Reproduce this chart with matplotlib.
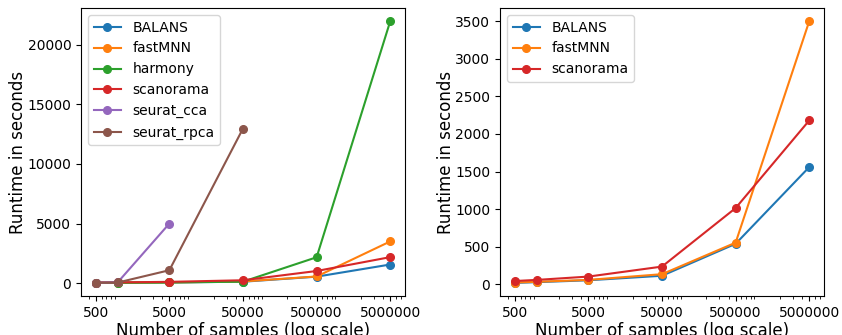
import matplotlib
matplotlib.use("Agg")
import matplotlib.pyplot as plt
from matplotlib.ticker import FixedLocator, FixedFormatter

samples = [500, 1000, 5000, 50000, 500000, 5000000]
xticks = [500, 5000, 50000, 500000, 5000000]
xtick_labels = ["500", "5000", "50000", "500000", "5000000"]

balans = [20, 30, 55, 115, 540, 1560]
fastmnn = [25, 35, 60, 136, 555, 3500]
harmony = [15, 25, 50, 120, 2170, 22000]
scanorama = [45, 60, 104, 237, 1015, 2180]
seurat_cca = [30, 80, 5000]
seurat_rpca = [30, 50, 1080, 12980]

fig = plt.figure(figsize=(8.42, 3.35), dpi=100)
ax1 = fig.add_axes([81 / 842, 1 - 296 / 335, 324 / 842, 288 / 335])
ax2 = fig.add_axes([500 / 842, 1 - 296 / 335, 324 / 842, 288 / 335])

left_series = [
    ("BALANS", samples, balans, "C0"),
    ("fastMNN", samples, fastmnn, "C1"),
    ("harmony", samples, harmony, "C2"),
    ("scanorama", samples, scanorama, "C3"),
    ("seurat_cca", samples[:len(seurat_cca)], seurat_cca, "C4"),
    ("seurat_rpca", samples[:len(seurat_rpca)], seurat_rpca, "C5"),
]
right_series = [
    ("BALANS", samples, balans, "C0"),
    ("fastMNN", samples, fastmnn, "C1"),
    ("scanorama", samples, scanorama, "C3"),
]

for ax, series in ((ax1, left_series), (ax2, right_series)):
    for name, xs, ys, c in series:
        ax.plot(xs, ys, marker="o", markersize=5.5, linewidth=1.5, color=c, label=name)
    ax.set_xscale("log")
    ax.xaxis.set_major_locator(FixedLocator(xticks))
    ax.xaxis.set_major_formatter(FixedFormatter(xtick_labels))
    ax.tick_params(axis="both", labelsize=10)
    ax.set_xlabel("Number of samples (log scale)", fontsize=12, labelpad=2)
    ax.set_ylabel("Runtime in seconds", fontsize=12, labelpad=0)
    ax.legend(loc="upper left", fontsize=10)

ax1.set_yticks([0, 5000, 10000, 15000, 20000])
ax2.set_yticks([0, 500, 1000, 1500, 2000, 2500, 3000, 3500])

fig.savefig("out.png", dpi=100)
